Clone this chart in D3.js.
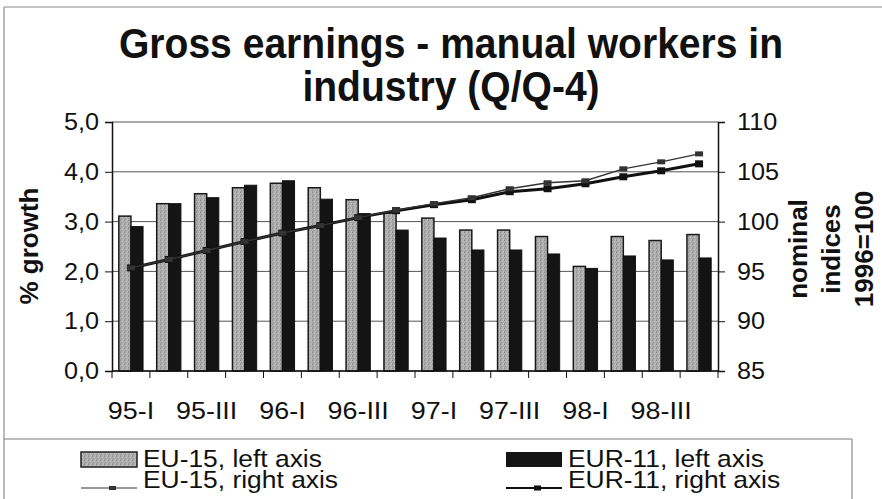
<!DOCTYPE html>
<html><head><meta charset="utf-8">
<script src="https://cdn.jsdelivr.net/npm/d3@7"></script>
<style>html,body{margin:0;padding:0;background:#fff;}svg{display:block;}</style>
</head><body>
<svg id="chart" width="882" height="499"></svg>
<script>
const categories = ["95-I","95-II","95-III","95-IV","96-I","96-II","96-III","96-IV","97-I","97-II","97-III","97-IV","98-I","98-II","98-III","98-IV"];
const tickLabels = ["95-I","95-III","96-I","96-III","97-I","97-III","98-I","98-III"];
const eu15Growth  = [3.11,3.36,3.56,3.68,3.77,3.68,3.44,3.17,3.07,2.83,2.83,2.70,2.10,2.70,2.62,2.74];
const eur11Growth = [2.90,3.36,3.48,3.73,3.82,3.45,3.16,2.83,2.67,2.43,2.43,2.35,2.06,2.31,2.23,2.27];
const eu15Index   = [95.35,96.2,97.1,98.0,98.85,99.6,100.4,101.15,101.8,102.4,103.3,103.9,104.1,105.3,106.0,106.8];
const eur11Index  = [95.35,96.2,97.1,98.0,98.85,99.6,100.4,101.1,101.7,102.2,103.0,103.3,103.8,104.5,105.1,105.8];
const leftTicks  = [0,1,2,3,4,5];
const rightTicks = [85,90,95,100,105,110];
const titleLines = ["Gross earnings - manual workers in","industry (Q/Q-4)"];
const leftTitle = "% growth";
const rightTitleLines = ["nominal","indices","1996=100"];
const legendItems = ["EU-15, left axis","EUR-11, left axis","EU-15, right axis","EUR-11, right axis"];

const svg = d3.select("#chart");
const FONT = "'Liberation Sans', Arial, sans-serif";
const m = {left:112, right:718, top:122, bottom:371};

const defs = svg.append("defs");
const pat = defs.append("pattern").attr("id","stip").attr("width",4).attr("height",4).attr("patternUnits","userSpaceOnUse");
pat.append("rect").attr("width",4).attr("height",4).attr("fill","#acacac");
[[0,0,"#8c8c8c"],[2,1,"#c8c8c8"],[1,2,"#959595"],[3,3,"#c0c0c0"],[3,0,"#b8b8b8"],[0,3,"#9a9a9a"]].forEach(([x,y,c])=>pat.append("rect").attr("x",x).attr("y",y).attr("width",1).attr("height",1).attr("fill",c));

function txt(str, x, y, opts) {
  const o = Object.assign({size:24, weight:"normal", anchor:"start", rot:0, sx:1.05, base:"auto"}, opts||{});
  return svg.append("text")
    .attr("transform", `translate(${x},${y}) rotate(${o.rot}) scale(${o.sx},1)`)
    .attr("font-family", FONT).attr("font-size", o.size).attr("font-weight", o.weight)
    .attr("text-anchor", o.anchor).attr("dominant-baseline", o.base)
    .attr("fill", "#111").text(str);
}

// outer frame
svg.append("line").attr("x1",4).attr("x2",4).attr("y1",7).attr("y2",499).attr("stroke","#777").attr("stroke-width",1);
svg.append("line").attr("x1",4).attr("x2",882).attr("y1",7).attr("y2",7).attr("stroke","#888").attr("stroke-width",1);

// title
titleLines.forEach((t,i)=>txt(t, 451, 58 + i*43, {size:42, weight:"bold", anchor:"middle", sx:0.93}));

const x = d3.scaleBand().domain(categories).range([m.left, m.right]).paddingInner(0.36).paddingOuter(0.18);
const x1 = d3.scaleBand().domain(["eu","eur"]).range([0, x.bandwidth()]);
const yL = d3.scaleLinear().domain([0,5]).range([m.bottom, m.top]);
const yR = d3.scaleLinear().domain([85,110]).range([m.bottom, m.top]);

// gridlines
svg.append("g").selectAll("line").data(leftTicks).join("line")
  .attr("x1",m.left).attr("x2",m.right).attr("y1",d=>yL(d)).attr("y2",d=>yL(d))
  .attr("stroke","#555").attr("stroke-width",1);

// bars
const g = svg.append("g");
g.selectAll("rect.eu").data(eu15Growth).join("rect").attr("class","eu")
  .attr("x",(d,i)=>x(categories[i])+x1("eu")).attr("width",x1.bandwidth())
  .attr("y",d=>yL(d)).attr("height",d=>yL(0)-yL(d))
  .attr("fill","url(#stip)").attr("stroke","#1a1a1a").attr("stroke-width",1.5);
g.selectAll("rect.eur").data(eur11Growth).join("rect").attr("class","eur")
  .attr("x",(d,i)=>x(categories[i])+x1("eur")).attr("width",x1.bandwidth())
  .attr("y",d=>yL(d)).attr("height",d=>yL(0)-yL(d))
  .attr("fill","#141414").attr("stroke","#111").attr("stroke-width",1);

// axes
const leftAxis = d3.axisLeft(yL).tickValues(leftTicks).tickSize(7).tickFormat("");
const ga = svg.append("g").attr("transform",`translate(${m.left},0)`).call(leftAxis);
const rightAxis = d3.axisRight(yR).tickValues(rightTicks).tickSize(7).tickFormat("");
const gr = svg.append("g").attr("transform",`translate(${m.right},0)`).call(rightAxis);
[ga,gr].forEach(s=>{s.select(".domain").attr("stroke","#111").attr("stroke-width",1.5); s.selectAll(".tick line").attr("stroke","#111");});
svg.append("line").attr("x1",m.left).attr("x2",m.right).attr("y1",m.bottom).attr("y2",m.bottom).attr("stroke","#111").attr("stroke-width",1.5);
const boundaries = categories.map(c=>x(c)-x.step()*x.paddingInner()/2).concat([m.right]);
svg.append("g").selectAll("line").data(boundaries).join("line")
  .attr("x1",d=>d).attr("x2",d=>d).attr("y1",m.bottom).attr("y2",m.bottom+7).attr("stroke","#111");

// tick labels
leftTicks.forEach(v=>txt(d3.format(".1f")(v).replace(".",","), 99, yL(v), {anchor:"end", base:"central"}));
rightTicks.forEach(v=>txt(String(v), 737, yR(v), {base:"central"}));
tickLabels.forEach(l=>txt(l, x(l)+x.bandwidth()/2, 419, {size:24, anchor:"middle", sx:1.12}));

// axis titles
txt(leftTitle, 38, 246, {size:26, weight:"bold", anchor:"middle", rot:-90, sx:1.0});
rightTitleLines.forEach((t,i)=>txt(t, 807 + i*33, 249, {size:26, weight:"bold", anchor:"middle", rot:-90, sx:1.0}));

// lines
const cx = i => x(categories[i]) + x.bandwidth()/2;
const lineGen = d3.line().x((d,i)=>cx(i)).y(d=>yR(d));
svg.append("path").datum(eur11Index).attr("d",lineGen).attr("fill","none").attr("stroke","#111").attr("stroke-width",3);
svg.append("path").datum(eu15Index).attr("d",lineGen).attr("fill","none").attr("stroke","#333").attr("stroke-width",1.4);
svg.append("g").selectAll("rect").data(eur11Index).join("rect")
  .attr("x",(d,i)=>cx(i)-4).attr("y",d=>yR(d)-3.5).attr("width",8).attr("height",7).attr("fill","#111");
svg.append("g").selectAll("rect").data(eu15Index).join("rect")
  .attr("x",(d,i)=>cx(i)-4).attr("y",d=>yR(d)-2.5).attr("width",8).attr("height",5).attr("fill","#333");

// legend box
svg.append("line").attr("x1",4).attr("x2",852).attr("y1",439).attr("y2",439).attr("stroke","#777");
svg.append("line").attr("x1",852).attr("x2",852).attr("y1",439).attr("y2",499).attr("stroke","#777");
const legX = [81, 506];
svg.append("rect").attr("x",legX[0]).attr("y",452).attr("width",56).attr("height",15).attr("fill","url(#stip)").attr("stroke","#222").attr("stroke-width",1.5);
svg.append("rect").attr("x",legX[1]).attr("y",452).attr("width",56).attr("height",15).attr("fill","#141414");
svg.append("line").attr("x1",legX[0]).attr("x2",legX[0]+56).attr("y1",488).attr("y2",488).attr("stroke","#333").attr("stroke-width",1.2);
svg.append("rect").attr("x",legX[0]+28).attr("y",486).attr("width",7).attr("height",4).attr("fill","#333");
svg.append("line").attr("x1",legX[1]).attr("x2",legX[1]+56).attr("y1",488).attr("y2",488).attr("stroke","#111").attr("stroke-width",2);
svg.append("rect").attr("x",legX[1]+28).attr("y",485.5).attr("width",7).attr("height",5).attr("fill","#111");
legendItems.forEach((t,i)=>txt(t, legX[i%2]+62, 467 + Math.floor(i/2)*21, {size:24, sx:1.1}));
</script>
</body></html>
